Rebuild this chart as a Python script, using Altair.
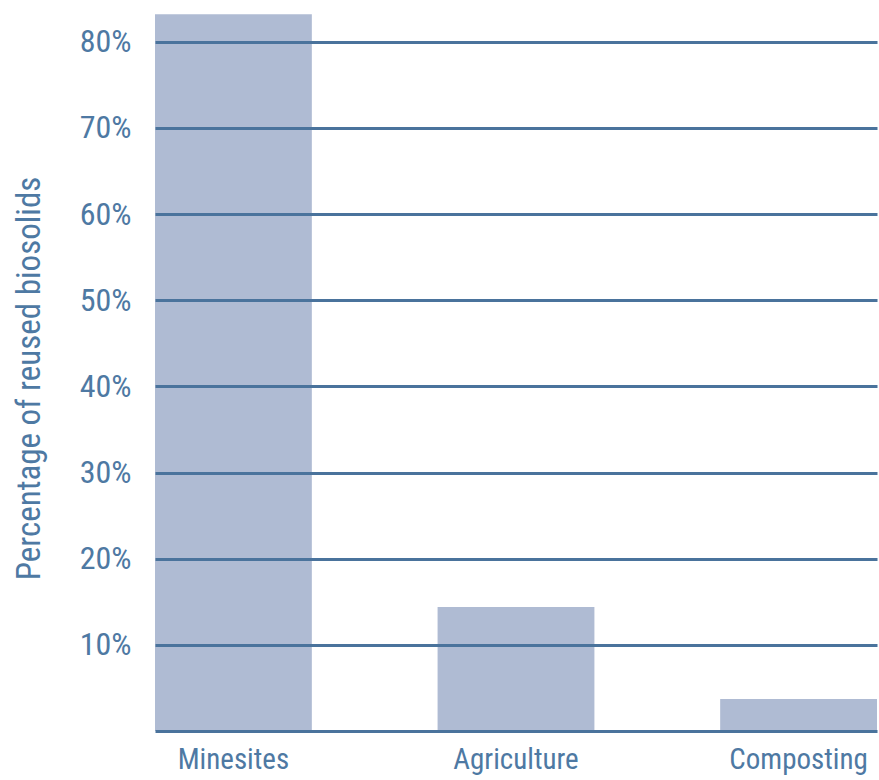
import altair as alt
import pandas as pd

categories = ["Minesites", "Agriculture", "Composting"]
values = [83.2, 14.4, 3.7]

df = pd.DataFrame({"use": categories, "pct": values})

FONT = "Roboto Condensed, Liberation Sans Narrow, DejaVu Sans Condensed, sans-serif"
TEXT = "#4e79a3"
LINE = "#4a739c"
BAR = "#afbbd3"

chart = alt.Chart(df).mark_bar(color=BAR).encode(
    x=alt.X("use:N", sort=categories,
            scale=alt.Scale(paddingInner=0.445, paddingOuter=0),
            axis=alt.Axis(title=None, labelAngle=0, labelFont=FONT, labelFontSize=29,
                          labelColor=TEXT, ticks=False, domain=False, labelPadding=14)),
    y=alt.Y("pct:Q", scale=alt.Scale(domain=[0, 84.84], nice=False, zero=True),
            axis=alt.Axis(values=[0, 10, 20, 30, 40, 50, 60, 70, 80],
                          labelExpr="datum.value == 0 ? '' : datum.value + '%'",
                          title="Percentage of reused biosolids",
                          titleFont=FONT, titleFontSize=33, titleFontWeight="normal",
                          titleColor=TEXT, titlePadding=33, titleY=378,
                          labelFont=FONT, labelFontSize=32, labelColor=TEXT,
                          labelPadding=24, ticks=False, domain=False,
                          grid=True, gridColor=LINE, gridWidth=3, gridOpacity=1,
                          zindex=1)),
).properties(
    width=722, height=731,
    autosize=alt.AutoSizeParams(type="none"),
    padding={"left": 155, "top": 0, "right": 2, "bottom": 49},
).configure_view(stroke=None)

chart.save("out.html", embed_options={"renderer": "svg", "actions": False})
